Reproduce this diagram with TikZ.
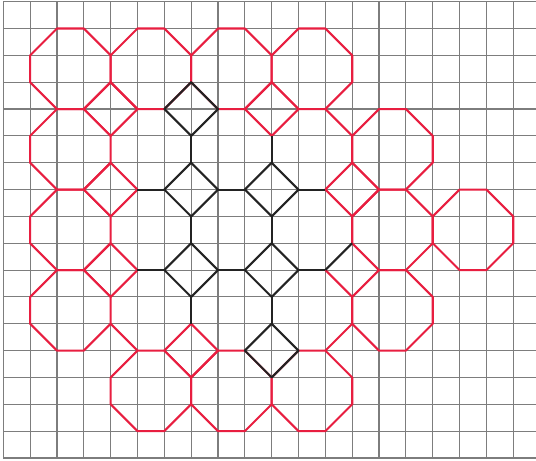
\documentclass[tikz,border=0pt]{standalone}
\definecolor{octred}{RGB}{232,30,64}
\definecolor{gridgray}{RGB}{125,125,125}
\definecolor{inkblack}{RGB}{35,35,35}
\begin{document}
\begin{tikzpicture}[x=0.5cm,y=-0.5cm,
  gridline/.style={draw=gridgray,line width=0.6pt},
  redline/.style={draw=octred,line width=1.1pt,line join=round},
  blackline/.style={draw=inkblack,line width=1.1pt,line join=round}]
\useasboundingbox (-0.123,-0.063) rectangle (19.848,17.113);
\fill[white] (-0.123,-0.063) rectangle (19.848,17.113);
% grid
\foreach \i in {0,...,19} \draw[gridline] (\i,0) -- (\i,17);
\foreach \j in {0,...,17} \draw[gridline] (0,\j) -- (19.848,\j);
% red octagons (index a,b: spans [3a+1,3a+4] x [3b+1,3b+4])
\foreach \a/\b in {0/0,1/0,2/0,3/0,0/1,4/1,0/2,4/2,5/2,0/3,4/3,1/4,2/4,3/4}
  \draw[redline] ({3*\a+2},{3*\b+1}) -- ({3*\a+3},{3*\b+1}) -- ({3*\a+4},{3*\b+2})
    -- ({3*\a+4},{3*\b+3}) -- ({3*\a+3},{3*\b+4}) -- ({3*\a+2},{3*\b+4})
    -- ({3*\a+1},{3*\b+3}) -- ({3*\a+1},{3*\b+2}) -- cycle;
% red squares
\foreach \x/\y in {4/4,10/4,4/7,13/7,4/10,7/13}
  \draw[redline] ({\x},{\y-1}) -- ({\x+1},{\y}) -- ({\x},{\y+1}) -- ({\x-1},{\y}) -- cycle;
% extra red edges
\draw[redline] (12,4) -- (13,5);
\draw[redline] (12,10) -- (13,11);
\draw[redline] (12,13) -- (13,12);
\draw[redline] (4,12) -- (5,13);
% black squares
\foreach \x/\y in {7/4,7/7,10/7,7/10,10/10,10/13}
  \draw[blackline] ({\x},{\y-1}) -- ({\x+1},{\y}) -- ({\x},{\y+1}) -- ({\x-1},{\y}) -- cycle;
% black connecting edges
\foreach \x/\y in {7/5,10/5,7/8,10/8,7/11,10/11}
  \draw[blackline] ({\x},{\y}) -- ({\x},{\y+1});
\foreach \x/\y in {5/7,8/7,11/7,5/10,8/10,11/10}
  \draw[blackline] ({\x},{\y}) -- ({\x+1},{\y});
\draw[blackline] (12,10) -- (13,9);
\end{tikzpicture}
\end{document}
